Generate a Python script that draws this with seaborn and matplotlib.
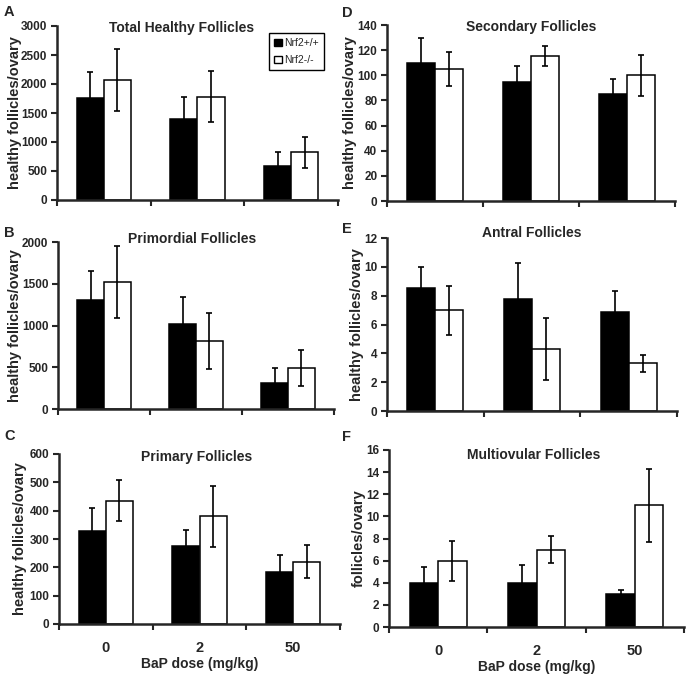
import pandas as pd
import seaborn as sns
import matplotlib.pyplot as plt
from matplotlib.patches import Patch

doses = ["0", "2", "50"]
genotypes = ["Nrf2+/+", "Nrf2-/-"]

# A - total healthy
total_wt = [1750, 1400, 590]
total_ko = [2070, 1780, 820]
total_wt_err = [450, 370, 240]
total_ko_err = [530, 440, 270]
# B - primordial
primordial_wt = [1300, 1020, 310]
primordial_ko = [1520, 820, 490]
primordial_wt_err = [350, 320, 180]
primordial_ko_err = [430, 335, 215]
# C - primary
primary_wt = [330, 275, 185]
primary_ko = [435, 380, 220]
primary_wt_err = [80, 57, 60]
primary_ko_err = [72, 107, 58]
# D - secondary
secondary_wt = [110, 95, 85]
secondary_ko = [105, 115, 100]
secondary_wt_err = [20, 12, 12]
secondary_ko_err = [13.5, 8, 16.5]
# E - antral
antral_wt = [8.5, 7.8, 6.9]
antral_ko = [7.0, 4.3, 3.3]
antral_wt_err = [1.5, 2.5, 1.4]
antral_ko_err = [1.7, 2.15, 0.6]
# F - multiovular
multi_wt = [4, 4, 3]
multi_ko = [6, 7, 11]
multi_wt_err = [1.4, 1.6, 0.3]
multi_ko_err = [1.8, 1.2, 3.3]

sns.set_style("ticks")
plt.rcParams['font.family'] = ['Liberation Sans', 'DejaVu Sans']
plt.rcParams['font.weight'] = 'bold'

fig = plt.figure(figsize=(6.88, 6.76), dpi=100)
W, H = 688, 676

# letter, title, ylabel, wt, ko, wt_err, ko_err, ymax, ystep, box(px l,r,t,b), title_x, title_y, ylab_x, letter_xy, bottom
panels = [
    ("A", "Total Healthy Follicles", "healthy follicles/ovary", total_wt, total_ko, total_wt_err, total_ko_err,
     3000, 500, (57, 338, 26, 200), 0.445, 0.99, -0.125, (4, 12), False),
    ("B", "Primordial Follicles", "healthy follicles/ovary", primordial_wt, primordial_ko, primordial_wt_err, primordial_ko_err,
     2000, 500, (58, 334, 242, 409), 0.485, 1.018, -0.13, (4, 233), False),
    ("C", "Primary Follicles", "healthy follicles/ovary", primary_wt, primary_ko, primary_wt_err, primary_ko_err,
     600, 100, (59, 340, 454, 624), 0.49, 0.982, -0.114, (4, 436), True),
    ("D", "Secondary Follicles", "healthy follicles/ovary", secondary_wt, secondary_ko, secondary_wt_err, secondary_ko_err,
     140, 20, (387, 675, 25, 201), 0.5, 0.99, -0.104, (342, 13), False),
    ("E", "Antral Follicles", "healthy follicles/ovary", antral_wt, antral_ko, antral_wt_err, antral_ko_err,
     12, 2, (387, 677, 238, 411), 0.5, 1.03, -0.08, (342, 229), False),
    ("F", "Multiovular Follicles", "follicles/ovary", multi_wt, multi_ko, multi_wt_err, multi_ko_err,
     16, 2, (389, 684, 450, 627), 0.49, 0.97, -0.078, (342, 437), True),
]

for (letter, title, ylab, wt, ko, wt_err, ko_err, ymax, ystep, box, tx, ty, ylx, lxy, bottom) in panels:
    l, r, t, b = box
    ax = fig.add_axes([l / W, 1 - b / H, (r - l) / W, (b - t) / H])
    df = pd.DataFrame({
        "dose": doses * 2,
        "genotype": [genotypes[0]] * 3 + [genotypes[1]] * 3,
        "count": wt + ko,
    })
    sns.barplot(data=df, x="dose", y="count", hue="genotype", order=doses, hue_order=genotypes,
                palette=["black", "white"], edgecolor="black", linewidth=1.1, width=0.58,
                errorbar=None, legend=False, ax=ax)
    for cont, errs in zip(ax.containers, [wt_err, ko_err]):
        for bar, e in zip(cont, errs):
            ax.errorbar(bar.get_x() + bar.get_width() / 2, bar.get_height(), yerr=e,
                        color="black", lw=1.2, capsize=2.2, capthick=1.2, zorder=5)
    ax.set_xlim(-0.5, 2.5)
    ax.set_ylim(0, ymax)
    ax.set_yticks(range(0, ymax + 1, ystep))
    ax.set_xticks([0, 1, 2])
    ax.set_xticks([-0.5, 0.5, 1.5, 2.5], minor=True)
    ax.tick_params(axis='x', which='major', length=0, labelsize=10.5, pad=12)
    ax.tick_params(axis='x', which='minor', length=4, width=1.5, direction='out')
    ax.tick_params(axis='y', length=4, width=1.5, direction='out', labelsize=8.5, pad=3)
    for s in ["top", "right"]:
        ax.spines[s].set_visible(False)
    for s in ["left", "bottom"]:
        ax.spines[s].set_linewidth(1.8)
    for lbl in ax.get_yticklabels() + ax.get_xticklabels():
        lbl.set_fontweight('bold')
    if bottom:
        ax.set_xlabel("BaP dose (mg/kg)", fontsize=10, fontweight='bold', labelpad=2)
    else:
        ax.set_xticklabels([])
        ax.set_xlabel("")
    ax.set_ylabel(ylab, fontsize=10.5, fontweight='bold')
    ax.yaxis.set_label_coords(ylx, 0.5)
    ax.text(tx, ty, title, transform=ax.transAxes, ha='center', va='center',
            fontsize=10, fontweight='bold')
    fig.text(lxy[0] / W, 1 - lxy[1] / H, letter, ha='left', va='center',
             fontsize=10.5, fontweight='bold')
    if letter == "A":
        handles = [Patch(facecolor='black', edgecolor='black'),
                   Patch(facecolor='white', edgecolor='black')]
        leg = ax.legend(handles, genotypes, loc='upper left', bbox_to_anchor=(0.755, 0.96),
                        frameon=True, fancybox=False, edgecolor='black', framealpha=1,
                        handlelength=0.7, handleheight=0.7, handletextpad=0.2,
                        borderpad=0.5, labelspacing=0.65, borderaxespad=0,
                        prop={'size': 7.5, 'weight': 'normal'})
        leg.get_frame().set_linewidth(1.0)

fig.savefig("out.png", dpi=100)
